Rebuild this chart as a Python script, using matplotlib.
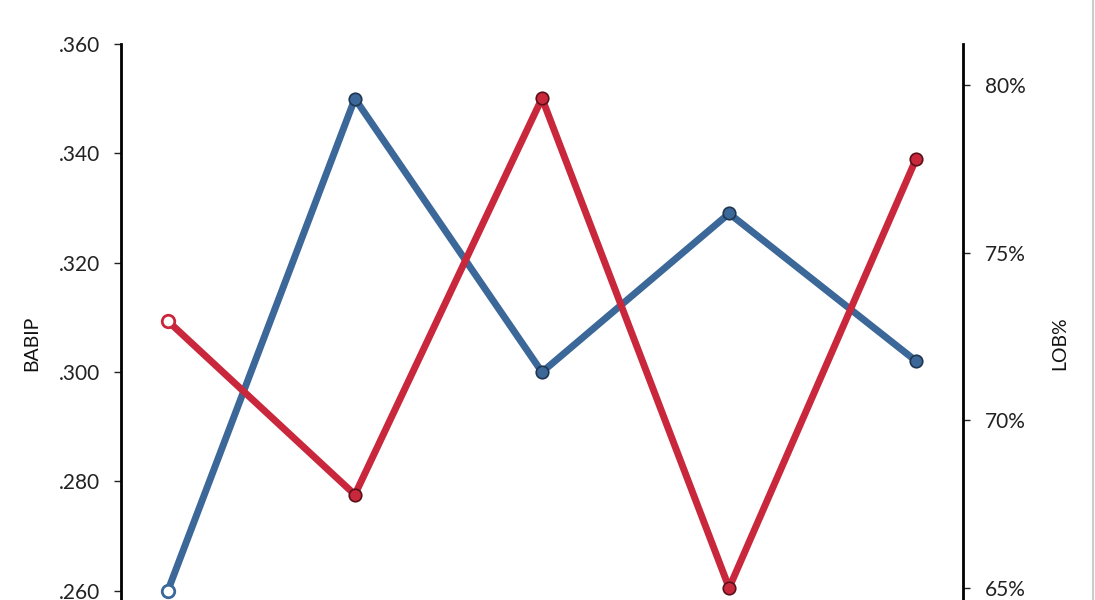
import matplotlib.pyplot as plt
from matplotlib.lines import Line2D
from matplotlib.ticker import FuncFormatter

# Data
points = [0, 1, 2, 3, 4]
babip = [0.260, 0.350, 0.300, 0.329, 0.302]
lob_pct = [72.96, 67.78, 79.6, 65.0, 77.8]
babip_ticks = [0.260, 0.280, 0.300, 0.320, 0.340, 0.360]
lob_ticks = [65, 70, 75, 80]

blue = '#3b6898'
red = '#c9283c'

plt.rcParams['font.family'] = ['Lato', 'DejaVu Sans']

fig = plt.figure(figsize=(10.95, 6.0), dpi=100)
# axes run off the bottom edge, like the cropped reference
ax = fig.add_axes([121 / 1095, -0.076, (963 - 121) / 1095, 601.7 / 600])
ax2 = ax.twinx()

ax.plot(points, babip, color=blue, lw=5, solid_capstyle='round', zorder=3)
ax.plot(points[1:], babip[1:], 'o', ms=9, mfc=blue, mec='#1f3550', mew=1.2, zorder=4)
ax.plot(points[:1], babip[:1], 'o', ms=9, mfc='white', mec=blue, mew=2, zorder=4)

ax2.plot(points, lob_pct, color=red, lw=5, solid_capstyle='round', zorder=3)
ax2.plot(points[1:], lob_pct[1:], 'o', ms=9, mfc=red, mec='#5a1018', mew=1.2, zorder=4)
ax2.plot(points[:1], lob_pct[:1], 'o', ms=9, mfc='white', mec=red, mew=2, zorder=4)

ax.set_xlim(-0.25, 4.25)
ax.set_ylim(0.250, 0.360)
ax2.set_ylim(63.28, 81.22)

ax.set_yticks(babip_ticks)
ax.yaxis.set_major_formatter(FuncFormatter(lambda v, p: ('%.3f' % v)[1:]))
ax2.set_yticks(lob_ticks)
ax2.yaxis.set_major_formatter(FuncFormatter(lambda v, p: '%d%%' % v))
ax.set_xticks([])

for a in (ax, ax2):
    for s in ('top', 'bottom'):
        a.spines[s].set_visible(False)
    a.tick_params(axis='y', length=5, width=1, labelsize=15, colors='#222222', pad=10)
    a.patch.set_visible(False)

ax.spines['right'].set_visible(False)
ax.spines['left'].set_linewidth(2)
ax2.spines['left'].set_visible(False)
ax2.spines['right'].set_linewidth(2)
ax2.tick_params(axis='y', pad=11)

fig.text(32 / 1095, 1 - 343 / 600, 'BABIP', rotation=90, ha='center', va='center', fontsize=14, color='#111111')
fig.text(1060 / 1095, 1 - 343 / 600, 'LOB%', rotation=90, ha='center', va='center', fontsize=14, color='#111111')

# thin grey frame line on the right edge
fig.add_artist(Line2D([1093 / 1095, 1093 / 1095], [0, 1], color='#cccccc', lw=1.5))

fig.savefig('out.png', dpi=100)
